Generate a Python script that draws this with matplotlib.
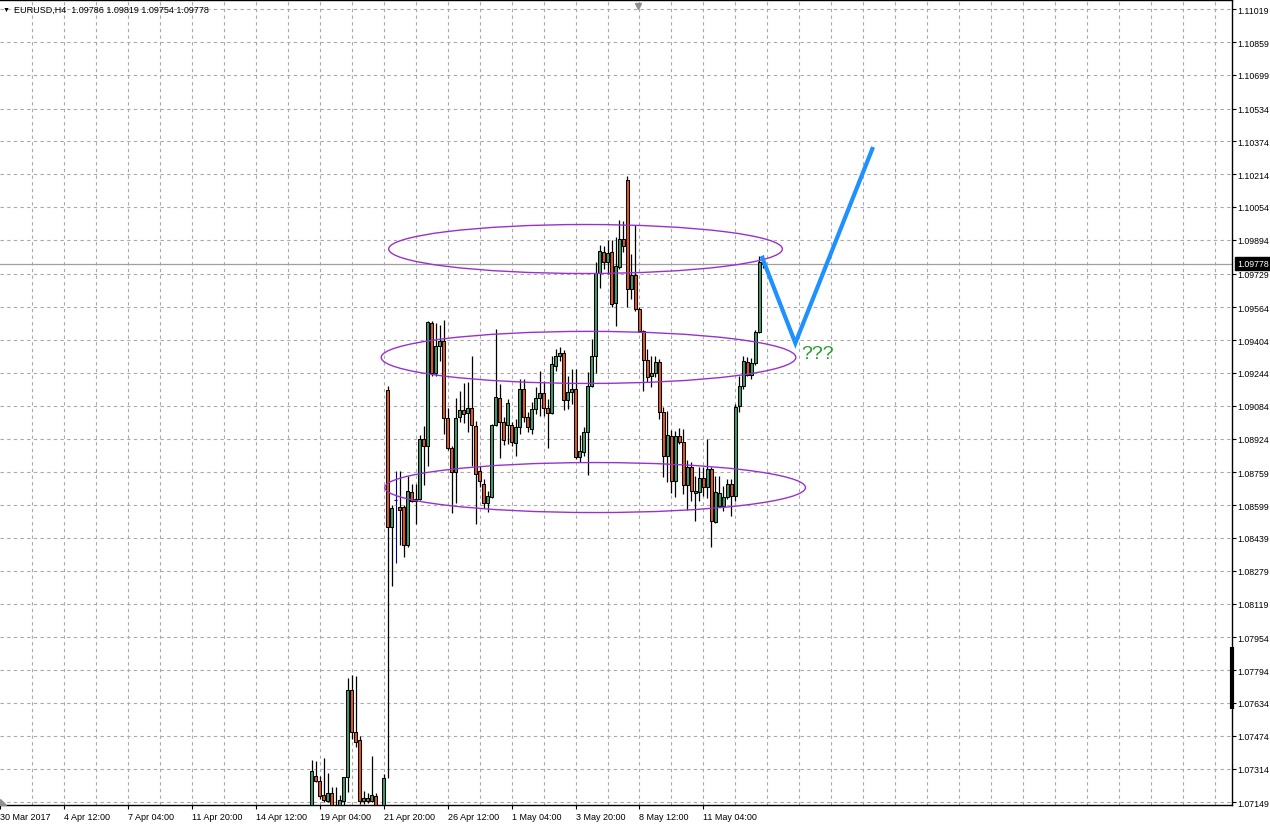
import matplotlib.pyplot as plt
import matplotlib.transforms as mtransforms
from matplotlib.patches import Rectangle, Ellipse, Polygon

plt.rcParams['font.family'] = ['Liberation Sans', 'DejaVu Sans']

# EURUSD H4 bars, first visible bar is bar #78 counted from 30 Mar 20:00
first_bar = 78
opens = [1.07092, 1.07277, 1.07253, 1.07185, 1.07155, 1.07194, 1.07092, 1.07116, 1.07155, 1.07272,
         1.07697, 1.07492, 1.07453, 1.07155, 1.07170, 1.07155, 1.07180, 1.07116, 1.07116, 1.09161,
         1.08492, 1.08624, 1.08590, 1.08590, 1.08405, 1.08663, 1.08619, 1.08629, 1.08922, 1.08888,
         1.09488, 1.09244, 1.09376, 1.09400, 1.09024, 1.08878, 1.08761, 1.09029, 1.09063, 1.09049,
         1.09073, 1.08985, 1.08766, 1.08702, 1.08610, 1.08639, 1.08990, 1.09122, 1.09005, 1.08990,
         1.08990, 1.08902, 1.08980, 1.09166, 1.09029, 1.08971, 1.09068, 1.09122, 1.09146, 1.09073,
         1.09049, 1.09278, 1.09327, 1.09342, 1.09112, 1.09151, 1.09166, 1.08834, 1.08858, 1.08956,
         1.09181, 1.09327, 1.09732, 1.09835, 1.09786, 1.09835, 1.09586, 1.09761, 1.09898, 1.10186,
         1.09654, 1.09722, 1.09556, 1.09449, 1.09307, 1.09229, 1.09244, 1.09298, 1.09054, 1.08839,
         1.08937, 1.08717, 1.08937, 1.08907, 1.08697, 1.08785, 1.08658, 1.08663, 1.08732, 1.08688,
         1.08776, 1.08517, 1.08595, 1.08595, 1.08639, 1.08702, 1.08644, 1.09083, 1.09181, 1.09298,
         1.09234, 1.09293, 1.09444, 1.09786]
highs = [1.07355, 1.07351, 1.07277, 1.07365, 1.07292, 1.07224, 1.07224, 1.07185, 1.07272, 1.07756,
         1.07770, 1.07765, 1.07473, 1.07204, 1.07194, 1.07375, 1.07194, 1.07126, 1.07287, 1.09181,
         1.08600, 1.08766, 1.08766, 1.08600, 1.08741, 1.08702, 1.08702, 1.08941, 1.08985, 1.09498,
         1.09498, 1.09488, 1.09478, 1.09503, 1.09073, 1.08888, 1.09122, 1.09156, 1.09195, 1.09200,
         1.09327, 1.09010, 1.08790, 1.08727, 1.08668, 1.08995, 1.09459, 1.09190, 1.09029, 1.09117,
         1.09005, 1.09020, 1.09215, 1.09215, 1.09054, 1.09102, 1.09176, 1.09254, 1.09205, 1.09117,
         1.09327, 1.09361, 1.09371, 1.09356, 1.09229, 1.09264, 1.09264, 1.08941, 1.08980, 1.09249,
         1.09410, 1.09786, 1.09869, 1.09864, 1.09893, 1.09893, 1.09908, 1.09991, 1.09986, 1.10205,
         1.09825, 1.09966, 1.09566, 1.09454, 1.09361, 1.09327, 1.09327, 1.09312, 1.09078, 1.09059,
         1.08966, 1.08961, 1.08976, 1.08971, 1.08819, 1.08810, 1.08741, 1.08785, 1.08785, 1.08922,
         1.08785, 1.08741, 1.08741, 1.08693, 1.08727, 1.08727, 1.09093, 1.09229, 1.09327, 1.09322,
         1.09317, 1.09454, 1.09815, 1.09819]
lows = [1.07058, 1.07248, 1.07165, 1.07150, 1.07150, 1.07107, 1.07077, 1.07107, 1.07136, 1.07199,
        1.07458, 1.07419, 1.07141, 1.07141, 1.07146, 1.07150, 1.07107, 1.07077, 1.07107, 1.07268,
        1.08205, 1.08317, 1.08405, 1.08346, 1.08395, 1.08614, 1.08507, 1.08624, 1.08697, 1.08790,
        1.09229, 1.09229, 1.09303, 1.08946, 1.08868, 1.08561, 1.08610, 1.09005, 1.09000, 1.08956,
        1.08790, 1.08507, 1.08688, 1.08585, 1.08566, 1.08634, 1.08985, 1.08829, 1.08893, 1.08898,
        1.08888, 1.08839, 1.08946, 1.09005, 1.08956, 1.08946, 1.09044, 1.09034, 1.09034, 1.08878,
        1.09044, 1.09254, 1.09303, 1.09063, 1.09068, 1.09093, 1.08824, 1.08810, 1.08839, 1.08746,
        1.09176, 1.09244, 1.09659, 1.09752, 1.09727, 1.09566, 1.09473, 1.09752, 1.09835, 1.09566,
        1.09605, 1.09547, 1.09444, 1.09156, 1.09200, 1.09176, 1.09224, 1.09020, 1.08737, 1.08712,
        1.08658, 1.08639, 1.08898, 1.08653, 1.08575, 1.08619, 1.08522, 1.08619, 1.08644, 1.08634,
        1.08395, 1.08512, 1.08590, 1.08571, 1.08629, 1.08546, 1.08619, 1.09054, 1.09166, 1.09229,
        1.09215, 1.09283, 1.09439, 1.09754]
closes = [1.07302, 1.07253, 1.07180, 1.07160, 1.07194, 1.07126, 1.07121, 1.07160, 1.07272, 1.07697,
          1.07492, 1.07443, 1.07155, 1.07170, 1.07155, 1.07185, 1.07126, 1.07092, 1.07268, 1.08492,
          1.08585, 1.08624, 1.08575, 1.08405, 1.08668, 1.08619, 1.08629, 1.08922, 1.08888, 1.09493,
          1.09244, 1.09376, 1.09400, 1.09024, 1.08878, 1.08761, 1.09024, 1.09063, 1.09044, 1.09073,
          1.08990, 1.08751, 1.08717, 1.08610, 1.08644, 1.08990, 1.09127, 1.09005, 1.08917, 1.09098,
          1.08907, 1.08980, 1.09166, 1.09029, 1.08980, 1.09068, 1.09122, 1.09146, 1.09073, 1.09049,
          1.09288, 1.09327, 1.09342, 1.09112, 1.09151, 1.09166, 1.08834, 1.08863, 1.08956, 1.09181,
          1.09327, 1.09732, 1.09839, 1.09786, 1.09830, 1.09581, 1.09766, 1.09898, 1.09864, 1.09654,
          1.09722, 1.09556, 1.09449, 1.09307, 1.09224, 1.09244, 1.09298, 1.09054, 1.08839, 1.08941,
          1.08717, 1.08937, 1.08907, 1.08697, 1.08785, 1.08668, 1.08668, 1.08732, 1.08688, 1.08776,
          1.08522, 1.08663, 1.08658, 1.08639, 1.08702, 1.08644, 1.09078, 1.09181, 1.09303, 1.09234,
          1.09293, 1.09444, 1.09786, 1.09778]

x_tick_bars = [0, 16, 32, 48, 64, 80, 96, 112, 128, 144, 160, 176]
x_tick_labels = ["30 Mar 2017", "4 Apr 12:00", "7 Apr 04:00", "11 Apr 20:00", "14 Apr 12:00",
                 "19 Apr 04:00", "21 Apr 20:00", "26 Apr 12:00", "1 May 04:00", "3 May 20:00",
                 "8 May 12:00", "11 May 04:00"]
y_ticks = [1.11019, 1.10859, 1.10699, 1.10534, 1.10374, 1.10214, 1.10054, 1.09894, 1.09729,
           1.09564, 1.09404, 1.09244, 1.09084, 1.08924, 1.08759, 1.08599, 1.08439, 1.08279,
           1.08119, 1.07954, 1.07794, 1.07634, 1.07474, 1.07314, 1.07149]

# the three ellipse zones: centre bar, centre price, width (bars), height (price)
zone_bar = [146.5, 147.25, 148.9]
zone_price = [1.09849, 1.09320, 1.08685]
zone_width = [98.5, 103.75, 105.25]
zone_height = [0.00239, 0.00254, 0.00244]

# hand drawn forecast
forecast_bars = [190.75, 199, 218.25]
forecast_prices = [1.09805, 1.09390, 1.10337]
question_bar, question_price = 200.5, 1.09337

bull_color = "#3a9e6e"
bear_color = "#e8541c"
grid_color = "#a9a9a9"

fig = plt.figure(figsize=(12.7, 8.29), dpi=100)
ax = fig.add_axes([0, 23 / 829, 1232 / 1270, 805 / 829])
ax.set_xlim(0.25, 308.25)
ax.set_ylim(1.07136, 1.11064)

# grid
for k in range(8, 309, 8):
    ax.axvline(k, color=grid_color, lw=0.8, ls=(0, (3, 3)), zorder=0)
for v in y_ticks:
    ax.axhline(v, color=grid_color, lw=0.8, ls=(0, (3, 3)), zorder=0)

# current price line
ax.axhline(closes[-1], color="#a0a0a0", lw=0.9, zorder=1)

# candles
for i in range(len(opens)):
    k = first_bar + i
    o, h, l, c = opens[i], highs[i], lows[i], closes[i]
    if o == c:
        ax.vlines(k, l, h, color="#000080", lw=0.8, zorder=2)
        ax.hlines(o, k - 0.4, k + 0.4, color="#000080", lw=0.8, zorder=2)
        continue
    ax.vlines(k, l, h, color="black", lw=0.9, zorder=2)
    col = bull_color if c > o else bear_color
    ax.add_patch(Rectangle((k - 0.32, min(o, c)), 0.64, abs(c - o),
                           facecolor=col, edgecolor="black", lw=0.75, zorder=3))

# zones
for xc, yc, w, hgt in zip(zone_bar, zone_price, zone_width, zone_height):
    ax.add_patch(Ellipse((xc, yc), w, hgt, fill=False, edgecolor="#9932cc", lw=1.0, zorder=5))

ax.plot(forecast_bars, forecast_prices, color="#1e90ff", lw=3, solid_joinstyle="miter", zorder=6)
ax.text(question_bar, question_price, "???", color="#2a9d2a", fontsize=14, va="center", ha="left", zorder=6)

# axes look
ax.spines["left"].set_visible(False)
for side in ["right", "bottom", "top"]:
    ax.spines[side].set_color("black")
    ax.spines[side].set_linewidth(1)

ax.yaxis.tick_right()
ax.set_yticks(y_ticks)
ax.set_yticklabels([f"{v:.5f}" for v in y_ticks])
ax.tick_params(axis="y", direction="out", length=3, width=0.8, pad=1, labelsize=6.3)
ax.set_xticks(x_tick_bars)
ax.set_xticklabels(x_tick_labels)
ax.tick_params(axis="x", direction="out", length=3, width=0.8, pad=2, labelsize=6.5)
plt.setp(ax.get_xticklabels(), ha="left")

# current price box on the scale
blend = mtransforms.blended_transform_factory(ax.transAxes, ax.transData)
ax.text(1.0, closes[-1], f"{closes[-1]:.5f}", transform=mtransforms.offset_copy(blend, fig=fig, x=5, units="dots"),
        color="white", fontsize=6.3, va="center", ha="left",
        bbox=dict(facecolor="black", edgecolor="black", pad=1.2), clip_on=False)

# scroll marker on the price scale and chart shift marker
ax.plot([1, 1], [1.07907, 1.07604], transform=blend, color="black", lw=3,
        solid_capstyle="butt", clip_on=False)
ax.plot([159.75], [0.993], marker="v", markersize=5, color="#909090",
        transform=mtransforms.blended_transform_factory(ax.transData, ax.transAxes), clip_on=False)
fig.patches.append(Polygon([[0, 29], [0, 23], [6, 23]], closed=True, color="#909090", transform=None))

# header
fig.text(3 / 1270, 1 - 10 / 829, "\u25bc", fontsize=5, va="center", ha="left")
fig.text(14 / 1270, 1 - 10 / 829,
         f"EURUSD,H4  {opens[-1]:.5f} {highs[-1]:.5f} {lows[-1]:.5f} {closes[-1]:.5f}",
         fontsize=6.5, va="center", ha="left")

plt.savefig("out.png", dpi=100)
